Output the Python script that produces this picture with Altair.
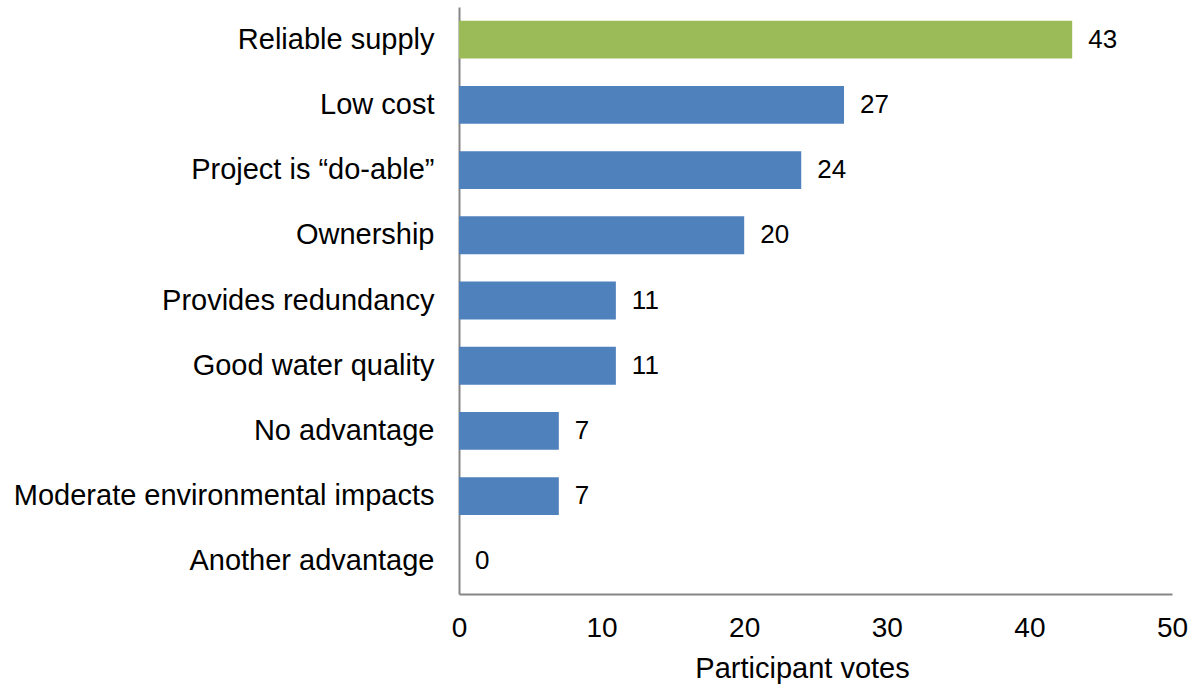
import altair as alt
import pandas as pd

categories = ["Reliable supply", "Low cost", "Project is \u201cdo-able\u201d", "Ownership",
              "Provides redundancy", "Good water quality", "No advantage",
              "Moderate environmental impacts", "Another advantage"]
votes = [43, 27, 24, 20, 11, 11, 7, 7, 0]
highlight = ["top", "other", "other", "other", "other", "other", "other", "other", "other"]
x_ticks = [0, 10, 20, 30, 40, 50]

df = pd.DataFrame({"cat": categories, "votes": votes, "grp": highlight})

FONT = "Liberation Sans"

base = alt.Chart(df).encode(
    y=alt.Y("cat:N", sort=categories, title=None,
            scale=alt.Scale(paddingInner=0.42, paddingOuter=0.21),
            axis=alt.Axis(labelFontSize=29, labelFont=FONT, labelColor="#000000",
                          labelPadding=25, ticks=False, domainColor="#868686",
                          domainWidth=2, labelLimit=700, grid=False)),
)

bars = base.mark_bar().encode(
    x=alt.X("votes:Q", scale=alt.Scale(domain=[0, 50]), title="Participant votes",
            axis=alt.Axis(values=x_ticks, grid=False, ticks=False, labelFontSize=28,
                          labelFont=FONT, labelColor="#000000", labelPadding=20,
                          labelFlush=False,
                          domainColor="#868686", domainWidth=2,
                          titleFontSize=29, titleFont=FONT, titleFontWeight="normal",
                          titleColor="#000000", titlePadding=12, titleX=343)),
    color=alt.Color("grp:N", scale=alt.Scale(domain=["top", "other"],
                                             range=["#9BBB59", "#4F81BD"]), legend=None),
)

text = base.mark_text(align="left", baseline="middle", dx=16, fontSize=26,
                      font=FONT, color="#000000").encode(
    x=alt.X("votes:Q"),
    text=alt.Text("votes:Q"),
)

chart = (bars + text).properties(
    width=713, height=587,
    background="white",
    view=alt.ViewBackground(stroke="transparent", strokeWidth=0),
    autosize=alt.AutoSizeParams(type="none"),
    padding={"left": 459, "top": 7, "right": 24, "bottom": 98},
).configure_view(stroke="transparent", strokeWidth=0)

chart.save("out.html", embed_options={"renderer": "svg", "actions": False})
